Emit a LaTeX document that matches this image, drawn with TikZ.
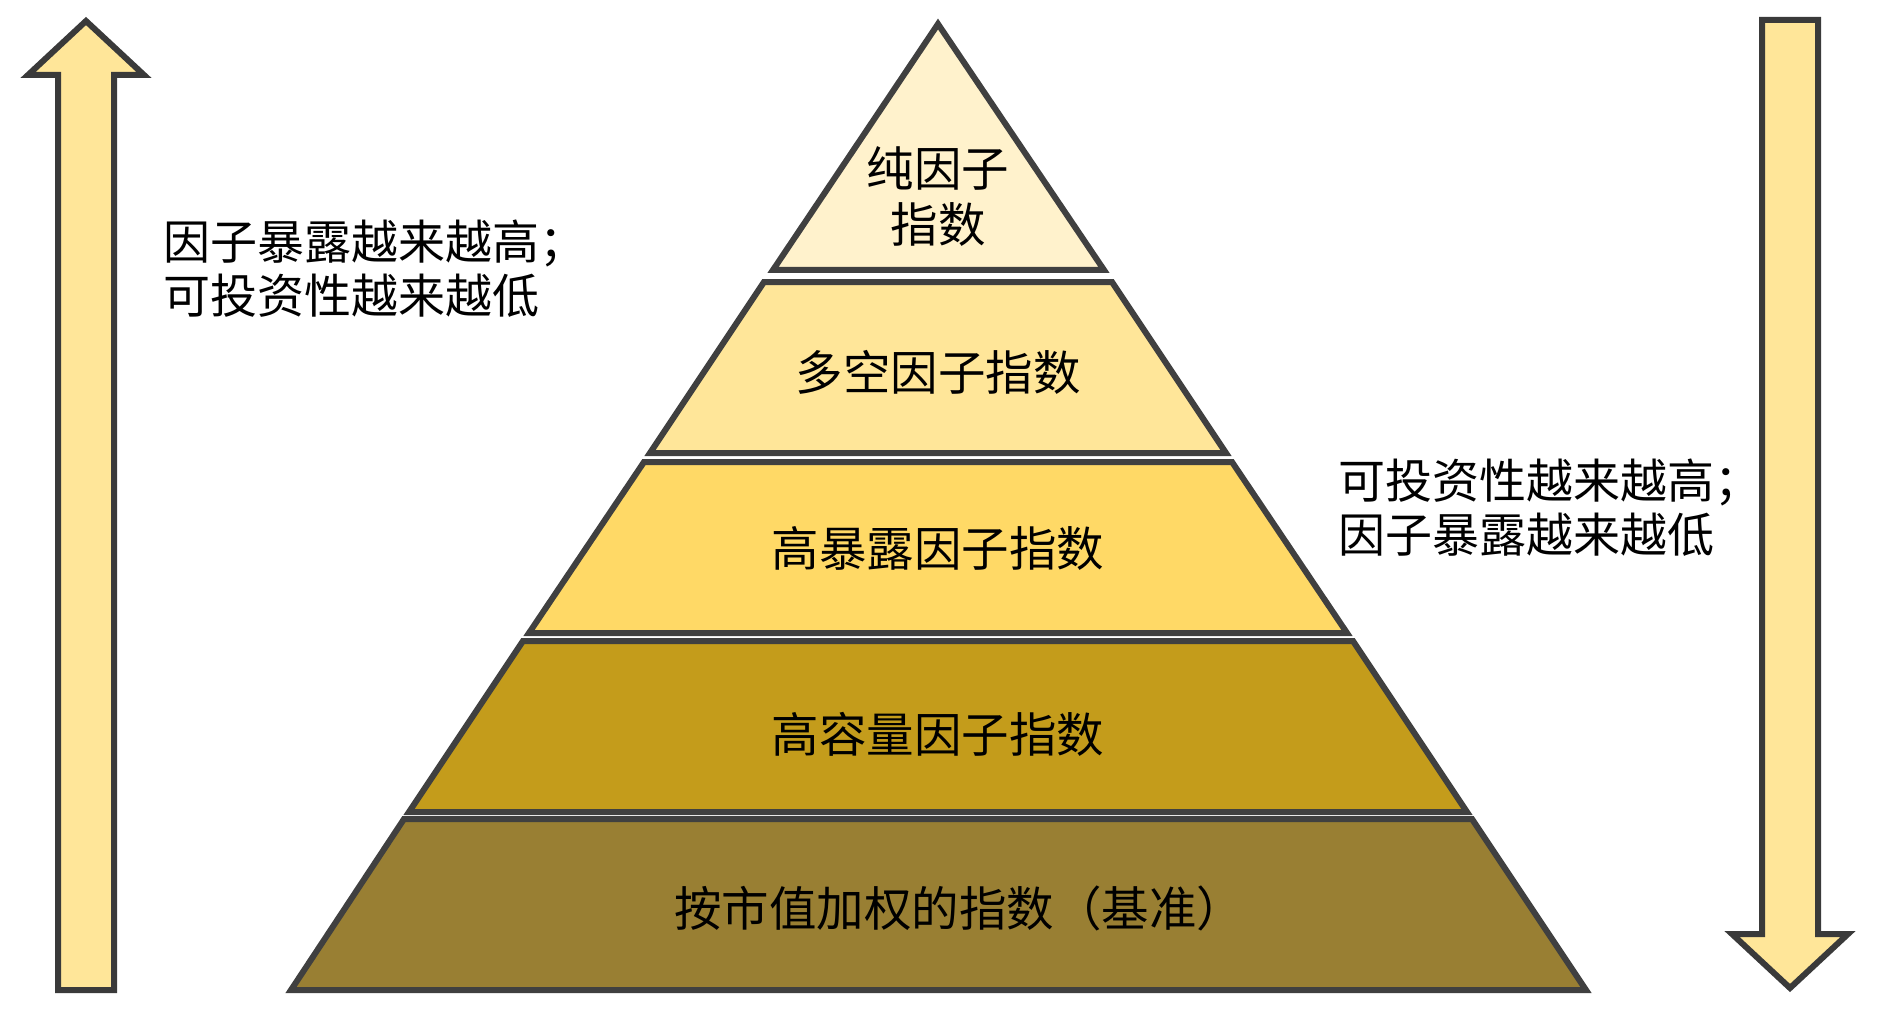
\documentclass[tikz,border=0pt]{standalone}
\usepackage{fontspec}
\newfontfamily\cjk{Noto Sans CJK SC}
\definecolor{strk}{HTML}{404040}
\definecolor{arrowfill}{HTML}{FFE699}
\definecolor{tA}{HTML}{FFF2CC}
\definecolor{tB}{HTML}{FFE699}
\definecolor{tC}{HTML}{FFD966}
\definecolor{tD}{HTML}{C49C1B}
\definecolor{tE}{HTML}{997F33}
\begin{document}
\begin{tikzpicture}[x=1pt,y=-1pt,
  tier/.style={draw=strk,line width=6pt,line join=miter},
  bigarrow/.style={draw=strk!90!black,fill=arrowfill,line width=6pt,line join=miter},
  lbl/.style={font=\cjk\fontsize{47.5}{56}\selectfont,text=black,inner sep=0pt,align=center},
  side/.style={font=\cjk\fontsize{47}{54}\selectfont,text=black,inner sep=0pt,align=left,anchor=west}]
\useasboundingbox (0,0) rectangle (1880,1019);
% left up arrow
\draw[bigarrow] (58,990) -- (58,75) -- (28,75) -- (86,21) -- (144,75) -- (114,75) -- (114,990) -- cycle;
% right down arrow
\draw[bigarrow] (1762,20) -- (1818,20) -- (1818,934) -- (1848,934) -- (1790,988) -- (1732,934) -- (1762,934) -- cycle;
% pyramid tiers
\draw[tier,fill=tA] (938,24) -- (1104,270) -- (773,270) -- cycle;
\draw[tier,fill=tB] (764,282) -- (1112,282) -- (1226,453) -- (650,453) -- cycle;
\draw[tier,fill=tC] (644,462) -- (1232,462) -- (1347,633) -- (529,633) -- cycle;
\draw[tier,fill=tD] (523,641) -- (1353,641) -- (1467,812) -- (409,812) -- cycle;
\draw[tier,fill=tE] (404,819) -- (1472,819) -- (1586,990) -- (291,990) -- cycle;
% labels
\node[lbl] (l1) at (938,196) {纯因子\\指数};
\node[lbl] (l2) at (938,372) {多空因子指数};
\node[lbl] (l3) at (938,548) {高暴露因子指数};
\node[lbl] (l4) at (938,734) {高容量因子指数};
\node[lbl] (l5) at (959,908) {按市值加权的指数（基准）};
\node[side] (left) at (163,269) {因子暴露越来越高；\\可投资性越来越低};
\node[side] (right) at (1338,508) {可投资性越来越高；\\因子暴露越来越低};
\end{tikzpicture}
\end{document}
